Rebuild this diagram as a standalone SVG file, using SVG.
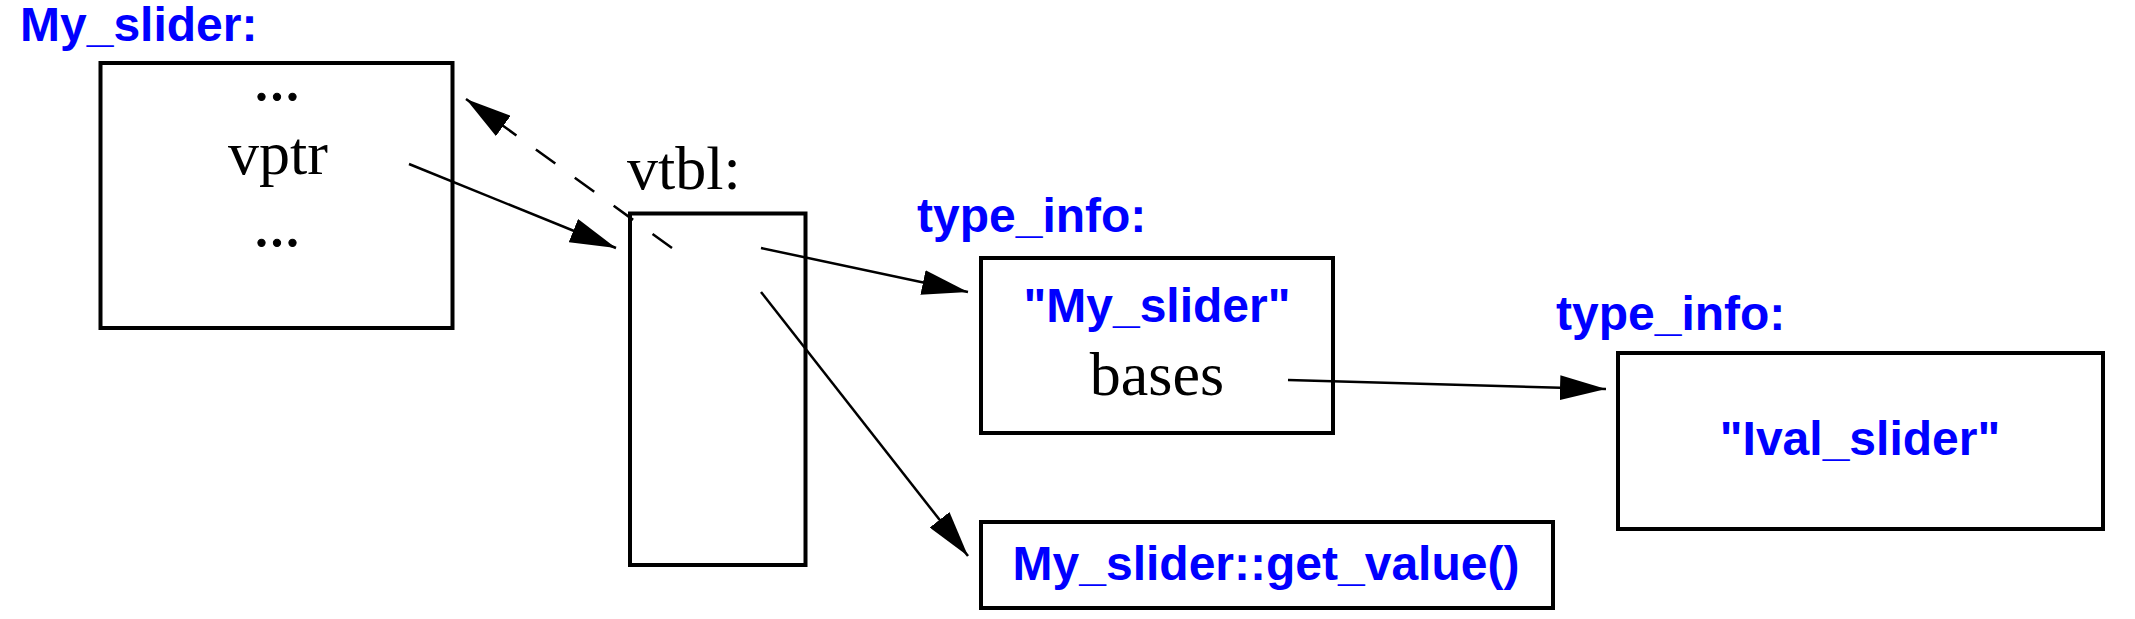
<svg xmlns="http://www.w3.org/2000/svg" width="2135" height="619" viewBox="0 0 2135 619">
<style>
.box{fill:none;stroke:#000;stroke-width:4}
.lbl{font-family:"Liberation Sans",Arial,sans-serif;font-weight:bold;font-size:48px;fill:#0000ff}
.tm{font-family:"Liberation Serif","Times New Roman",serif;font-size:62px;fill:#000}
.con{fill:none;stroke:#000;stroke-width:2.5}
.dash{stroke-dasharray:24 24}
</style>
<defs>
<marker id="ah" markerUnits="userSpaceOnUse" markerWidth="46" markerHeight="25" refX="46" refY="12.5" orient="auto" viewBox="0 0 46 25">
<path d="M0,0 L46,12.5 L0,25 z" fill="#000"/>
</marker>
</defs>
<rect width="2135" height="619" fill="#fff"/>
<g id="my_slider">
<text class="lbl" x="20" y="41" font-size="47">My_slider:</text>
<rect class="box" x="100.5" y="63" width="352" height="265"/>
<text class="tm" x="277" y="100" text-anchor="middle" stroke="#000" stroke-width="1">...</text>
<text class="tm" x="278" y="174" text-anchor="middle">vptr</text>
<text class="tm" x="277" y="246" text-anchor="middle" stroke="#000" stroke-width="1">...</text>
</g>
<g id="vtbl">
<text class="tm" x="627" y="189">vtbl:</text>
<rect class="box" x="630" y="213.5" width="175.5" height="351.5"/>
</g>
<g id="type_info_my_slider">
<text class="lbl" x="917" y="232">type_info:</text>
<rect class="box" x="981" y="258" width="352" height="175"/>
<text class="lbl" x="1157" y="322" text-anchor="middle">"My_slider"</text>
<text class="tm" x="1157" y="395" text-anchor="middle">bases</text>
</g>
<g id="type_info_ival_slider">
<text class="lbl" x="1556" y="330">type_info:</text>
<rect class="box" x="1618" y="353" width="485" height="176"/>
<text class="lbl" x="1860" y="455" text-anchor="middle">"Ival_slider"</text>
</g>
<g id="get_value">
<rect class="box" x="981" y="522" width="572" height="86"/>
<text class="lbl" x="1266" y="580" text-anchor="middle">My_slider::get_value()</text>
</g>
<g id="connectors">
<line class="con" x1="409" y1="164" x2="616" y2="248" marker-end="url(#ah)"/>
<line class="con dash" x1="672" y1="248" x2="466" y2="99" marker-end="url(#ah)"/>
<line class="con" x1="761" y1="248" x2="968" y2="292" marker-end="url(#ah)"/>
<line class="con" x1="761" y1="292" x2="968" y2="556" marker-end="url(#ah)"/>
<line class="con" x1="1288" y1="380" x2="1606" y2="389" marker-end="url(#ah)"/>
</g>
</svg>
